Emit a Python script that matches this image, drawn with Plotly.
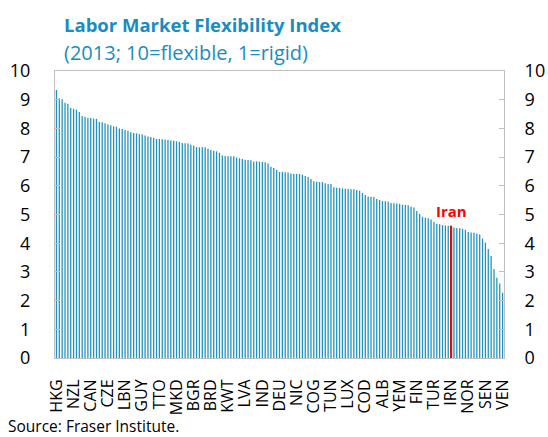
import plotly.graph_objects as go

# ---- data ----
values = [
    9.34, 9.05, 9.02, 8.89, 8.86, 8.71, 8.68, 8.65, 8.57, 8.43,
    8.41, 8.37, 8.36, 8.34, 8.33, 8.22, 8.21, 8.18, 8.14, 8.11,
    8.07, 8.06, 8.00, 7.98, 7.94, 7.92, 7.87, 7.84, 7.83, 7.80,
    7.80, 7.75, 7.72, 7.70, 7.67, 7.63, 7.63, 7.62, 7.61, 7.60,
    7.58, 7.57, 7.55, 7.53, 7.49, 7.48, 7.47, 7.43, 7.40, 7.35,
    7.34, 7.34, 7.34, 7.29, 7.25, 7.22, 7.20, 7.15, 7.06, 7.04,
    7.03, 7.03, 7.03, 6.99, 6.96, 6.93, 6.91, 6.90, 6.89, 6.85,
    6.85, 6.84, 6.83, 6.82, 6.78, 6.66, 6.62, 6.55, 6.48, 6.48,
    6.47, 6.46, 6.43, 6.41, 6.41, 6.41, 6.39, 6.34, 6.31, 6.24,
    6.16, 6.14, 6.13, 6.13, 6.09, 6.06, 6.06, 5.95, 5.93, 5.92,
    5.91, 5.90, 5.89, 5.88, 5.88, 5.85, 5.83, 5.75, 5.68, 5.63,
    5.62, 5.61, 5.54, 5.51, 5.47, 5.46, 5.45, 5.40, 5.39, 5.38,
    5.37, 5.34, 5.33, 5.32, 5.27, 5.24, 5.12, 5.02, 4.92, 4.89,
    4.87, 4.83, 4.75, 4.68, 4.66, 4.63, 4.62, 4.61, 4.61, 4.55,
    4.53, 4.52, 4.50, 4.46, 4.39, 4.37, 4.36, 4.33, 4.30, 4.16,
    4.02, 3.80, 3.55, 3.10, 2.80, 2.60, 2.27,
]
categories = list(range(len(values)))  # country rank positions
tick_labels = ["HKG", "NZL", "CAN", "CZE", "LBN", "GUY", "TTO", "MKD", "BGR",
               "BRD", "KWT", "LVA", "IND", "DEU", "NIC", "COG", "TUN", "LUX",
               "COD", "ALB", "YEM", "FIN", "TUR", "IRN", "NOR", "SEN", "VEN"]
tick_step = 6
tick_positions = categories[::tick_step]
highlight_label = "IRN"
highlight_name = "Iran"
y_ticks = list(range(0, 11))

hi_idx = tick_positions[tick_labels.index(highlight_label)]

BAR = "#1f93bd"
RED = "#ff0000"
TEAL = "#1a8cbf"
FONT = "Open Sans"

colors = [RED if i == hi_idx else BAR for i in categories]
widths = [0.75 if i == hi_idx else 0.45 for i in categories]

fig = go.Figure()
fig.add_trace(go.Bar(x=categories, y=values, width=widths,
                     marker=dict(color=colors, line_width=0),
                     showlegend=False, hoverinfo="skip"))
# right-hand axis carrier (draws nothing)
fig.add_trace(go.Scatter(x=categories, y=values, mode="none", yaxis="y2",
                         showlegend=False, hoverinfo="skip"))

axis_common = dict(range=[0, 10], tickvals=y_ticks, showgrid=False, zeroline=False,
                   showline=True, linecolor="#bfbfbf", linewidth=1,
                   ticks="inside", ticklen=5, tickcolor="#bfbfbf", automargin=False,
                   tickfont=dict(family=FONT, size=18, color="#000000"), fixedrange=True)

fig.update_layout(
    width=548, height=437,
    margin=dict(l=55, r=44, t=71, b=79, autoexpand=False),
    paper_bgcolor="white", plot_bgcolor="white",
    hovermode=False,
    xaxis=dict(range=[-0.5, len(values) - 0.5], tickmode="array",
               tickvals=tick_positions, ticktext=tick_labels, tickangle=-90,
               tickfont=dict(family=FONT, size=16, color="#000000"),
               showline=True, linecolor="#bfbfbf", mirror=True, showgrid=False,
               ticks="", ticklabelstandoff=14, automargin=False, fixedrange=True),
    yaxis=dict(**axis_common, side="left", ticklabelstandoff=20),
    yaxis2=dict(**axis_common, side="right", overlaying="y", anchor="x",
                ticklabelstandoff=16),
    annotations=[
        dict(text="<b>Labor Market Flexibility Index</b>", xref="paper", yref="paper",
             x=0.016, y=1.162, xanchor="left", yanchor="middle", showarrow=False,
             font=dict(family=FONT, size=18.5, color=TEAL)),
        dict(text="(2013; 10=flexible, 1=rigid)", xref="paper", yref="paper",
             x=0.016, y=1.063, xanchor="left", yanchor="middle", showarrow=False,
             font=dict(family=FONT, size=20, color=TEAL)),
        dict(text="Source: Fraser Institute.", xref="paper", yref="paper",
             x=-0.108, y=-0.238, xanchor="left", yanchor="middle", showarrow=False,
             borderpad=0, font=dict(family=FONT, size=15.5, color="#000000")),
        dict(text="<b>" + highlight_name + "</b>", x=hi_idx, y=values[hi_idx],
             xref="x", yref="y", yanchor="bottom", yshift=3, showarrow=False,
             font=dict(family=FONT, size=15, color=RED)),
    ],
)

fig.write_html("out.html", config={"displayModeBar": False, "staticPlot": True},
               post_script="document.body.style.margin='0';")
